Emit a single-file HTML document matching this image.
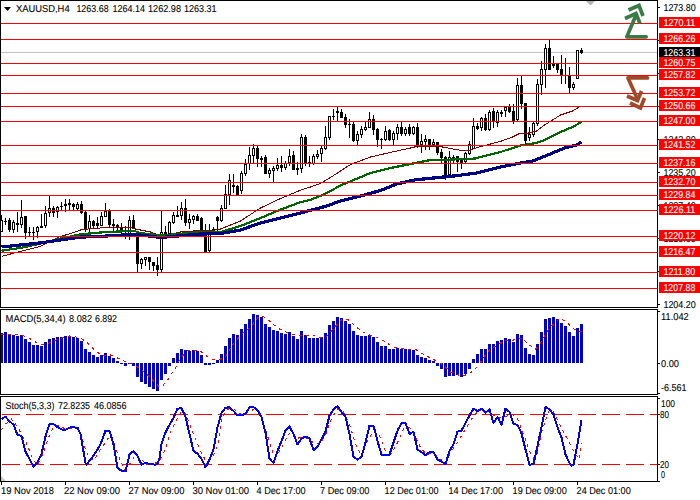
<!DOCTYPE html><html><head><meta charset="utf-8"><title>XAUUSD H4</title><style>html,body{margin:0;padding:0;background:#fff;width:700px;height:500px;overflow:hidden}svg{display:block}</style></head><body><svg width="700" height="500" viewBox="0 0 700 500"><rect width="700" height="500" fill="#fff"/><rect x="1" y="52" width="656" height="1" fill="#c0c0c0" shape-rendering="crispEdges"/><g fill="#000" shape-rendering="crispEdges"><rect x="1" y="215" width="1" height="17"/><rect x="0" y="220" width="3" height="12"/><rect x="1" y="221" width="1" height="10" fill="#fff"/><rect x="5" y="218" width="1" height="7"/><rect x="4" y="221" width="3" height="1"/><rect x="9" y="218" width="1" height="14"/><rect x="8" y="220" width="3" height="10"/><rect x="13" y="220" width="1" height="13"/><rect x="12" y="222" width="3" height="8"/><rect x="13" y="223" width="1" height="6" fill="#fff"/><rect x="17" y="212" width="1" height="20"/><rect x="16" y="223" width="3" height="2"/><rect x="21" y="200" width="1" height="28"/><rect x="20" y="217" width="3" height="8"/><rect x="21" y="218" width="1" height="6" fill="#fff"/><rect x="25" y="216" width="1" height="23"/><rect x="24" y="216" width="3" height="17"/><rect x="29" y="227" width="1" height="9"/><rect x="28" y="232" width="3" height="1"/><rect x="33" y="227" width="1" height="13"/><rect x="32" y="232" width="3" height="1"/><rect x="37" y="226" width="1" height="12"/><rect x="36" y="227" width="3" height="5"/><rect x="37" y="228" width="1" height="3" fill="#fff"/><rect x="41" y="214" width="1" height="14"/><rect x="40" y="226" width="3" height="2"/><rect x="45" y="206" width="1" height="22"/><rect x="44" y="213" width="3" height="13"/><rect x="45" y="214" width="1" height="11" fill="#fff"/><rect x="49" y="196" width="1" height="21"/><rect x="48" y="208" width="3" height="5"/><rect x="49" y="209" width="1" height="3" fill="#fff"/><rect x="53" y="206" width="1" height="11"/><rect x="52" y="208" width="3" height="5"/><rect x="57" y="206" width="1" height="12"/><rect x="56" y="207" width="3" height="5"/><rect x="57" y="208" width="1" height="3" fill="#fff"/><rect x="61" y="202" width="1" height="8"/><rect x="60" y="206" width="3" height="1"/><rect x="65" y="199" width="1" height="13"/><rect x="64" y="204" width="3" height="2"/><rect x="69" y="199" width="1" height="11"/><rect x="68" y="203" width="3" height="2"/><rect x="73" y="203" width="1" height="7"/><rect x="72" y="204" width="3" height="3"/><rect x="77" y="202" width="1" height="8"/><rect x="76" y="204" width="3" height="5"/><rect x="77" y="205" width="1" height="3" fill="#fff"/><rect x="81" y="201" width="1" height="13"/><rect x="80" y="204" width="3" height="9"/><rect x="85" y="211" width="1" height="21"/><rect x="84" y="212" width="3" height="17"/><rect x="89" y="215" width="1" height="21"/><rect x="88" y="221" width="3" height="8"/><rect x="89" y="222" width="1" height="6" fill="#fff"/><rect x="93" y="220" width="1" height="9"/><rect x="92" y="221" width="3" height="5"/><rect x="97" y="217" width="1" height="12"/><rect x="96" y="223" width="3" height="3"/><rect x="101" y="212" width="1" height="14"/><rect x="100" y="216" width="3" height="10"/><rect x="101" y="217" width="1" height="8" fill="#fff"/><rect x="105" y="203" width="1" height="14"/><rect x="104" y="211" width="3" height="6"/><rect x="105" y="212" width="1" height="4" fill="#fff"/><rect x="109" y="209" width="1" height="18"/><rect x="108" y="211" width="3" height="14"/><rect x="113" y="219" width="1" height="12"/><rect x="112" y="224" width="3" height="2"/><rect x="117" y="224" width="1" height="7"/><rect x="116" y="225" width="3" height="3"/><rect x="121" y="223" width="1" height="10"/><rect x="120" y="228" width="3" height="3"/><rect x="125" y="226" width="1" height="13"/><rect x="124" y="230" width="3" height="1"/><rect x="129" y="216" width="1" height="24"/><rect x="128" y="220" width="3" height="14"/><rect x="129" y="221" width="1" height="12" fill="#fff"/><rect x="133" y="215" width="1" height="14"/><rect x="132" y="220" width="3" height="9"/><rect x="137" y="236" width="1" height="36"/><rect x="136" y="236" width="3" height="28"/><rect x="141" y="258" width="1" height="11"/><rect x="140" y="259" width="3" height="5"/><rect x="141" y="260" width="1" height="3" fill="#fff"/><rect x="145" y="257" width="1" height="9"/><rect x="144" y="257" width="3" height="3"/><rect x="145" y="258" width="1" height="1" fill="#fff"/><rect x="149" y="257" width="1" height="13"/><rect x="148" y="257" width="3" height="5"/><rect x="153" y="262" width="1" height="9"/><rect x="152" y="262" width="3" height="4"/><rect x="157" y="257" width="1" height="19"/><rect x="156" y="265" width="3" height="5"/><rect x="161" y="211" width="1" height="61"/><rect x="160" y="232" width="3" height="38"/><rect x="161" y="233" width="1" height="36" fill="#fff"/><rect x="165" y="226" width="1" height="9"/><rect x="164" y="232" width="3" height="3"/><rect x="169" y="221" width="1" height="14"/><rect x="168" y="222" width="3" height="12"/><rect x="169" y="223" width="1" height="10" fill="#fff"/><rect x="173" y="212" width="1" height="12"/><rect x="172" y="215" width="3" height="8"/><rect x="173" y="216" width="1" height="6" fill="#fff"/><rect x="177" y="206" width="1" height="11"/><rect x="176" y="215" width="3" height="2"/><rect x="181" y="202" width="1" height="18"/><rect x="180" y="208" width="3" height="8"/><rect x="181" y="209" width="1" height="6" fill="#fff"/><rect x="185" y="199" width="1" height="27"/><rect x="184" y="208" width="3" height="15"/><rect x="189" y="214" width="1" height="15"/><rect x="188" y="219" width="3" height="4"/><rect x="189" y="220" width="1" height="2" fill="#fff"/><rect x="193" y="215" width="1" height="9"/><rect x="192" y="216" width="3" height="4"/><rect x="193" y="217" width="1" height="2" fill="#fff"/><rect x="197" y="214" width="1" height="7"/><rect x="196" y="216" width="3" height="5"/><rect x="201" y="217" width="1" height="18"/><rect x="200" y="218" width="3" height="17"/><rect x="205" y="224" width="1" height="28"/><rect x="204" y="230" width="3" height="22"/><rect x="209" y="224" width="1" height="28"/><rect x="208" y="231" width="3" height="20"/><rect x="209" y="232" width="1" height="18" fill="#fff"/><rect x="213" y="227" width="1" height="8"/><rect x="212" y="229" width="3" height="3"/><rect x="213" y="230" width="1" height="1" fill="#fff"/><rect x="217" y="216" width="1" height="16"/><rect x="216" y="217" width="3" height="4"/><rect x="221" y="205" width="1" height="17"/><rect x="220" y="208" width="3" height="13"/><rect x="221" y="209" width="1" height="11" fill="#fff"/><rect x="225" y="185" width="1" height="24"/><rect x="224" y="194" width="3" height="15"/><rect x="225" y="195" width="1" height="13" fill="#fff"/><rect x="229" y="174" width="1" height="31"/><rect x="228" y="180" width="3" height="15"/><rect x="229" y="181" width="1" height="13" fill="#fff"/><rect x="233" y="174" width="1" height="19"/><rect x="232" y="185" width="3" height="2"/><rect x="237" y="185" width="1" height="10"/><rect x="236" y="186" width="3" height="9"/><rect x="241" y="171" width="1" height="23"/><rect x="240" y="173" width="3" height="18"/><rect x="241" y="174" width="1" height="16" fill="#fff"/><rect x="245" y="159" width="1" height="17"/><rect x="244" y="164" width="3" height="10"/><rect x="245" y="165" width="1" height="8" fill="#fff"/><rect x="249" y="147" width="1" height="23"/><rect x="248" y="155" width="3" height="9"/><rect x="249" y="156" width="1" height="7" fill="#fff"/><rect x="253" y="144" width="1" height="19"/><rect x="252" y="148" width="3" height="8"/><rect x="253" y="149" width="1" height="6" fill="#fff"/><rect x="257" y="146" width="1" height="21"/><rect x="256" y="148" width="3" height="11"/><rect x="261" y="156" width="1" height="11"/><rect x="260" y="158" width="3" height="2"/><rect x="265" y="155" width="1" height="19"/><rect x="264" y="157" width="3" height="17"/><rect x="269" y="168" width="1" height="10"/><rect x="268" y="170" width="3" height="4"/><rect x="269" y="171" width="1" height="2" fill="#fff"/><rect x="273" y="166" width="1" height="16"/><rect x="272" y="168" width="3" height="3"/><rect x="273" y="169" width="1" height="1" fill="#fff"/><rect x="277" y="158" width="1" height="13"/><rect x="276" y="165" width="3" height="4"/><rect x="277" y="166" width="1" height="2" fill="#fff"/><rect x="281" y="156" width="1" height="16"/><rect x="280" y="165" width="3" height="3"/><rect x="285" y="161" width="1" height="9"/><rect x="284" y="163" width="3" height="5"/><rect x="285" y="164" width="1" height="3" fill="#fff"/><rect x="289" y="149" width="1" height="17"/><rect x="288" y="156" width="3" height="7"/><rect x="289" y="157" width="1" height="5" fill="#fff"/><rect x="293" y="151" width="1" height="19"/><rect x="292" y="155" width="3" height="15"/><rect x="297" y="162" width="1" height="13"/><rect x="296" y="168" width="3" height="2"/><rect x="301" y="134" width="1" height="39"/><rect x="300" y="137" width="3" height="32"/><rect x="301" y="138" width="1" height="30" fill="#fff"/><rect x="305" y="135" width="1" height="31"/><rect x="304" y="137" width="3" height="26"/><rect x="309" y="156" width="1" height="11"/><rect x="308" y="162" width="3" height="1"/><rect x="313" y="154" width="1" height="11"/><rect x="312" y="156" width="3" height="8"/><rect x="313" y="157" width="1" height="6" fill="#fff"/><rect x="317" y="150" width="1" height="9"/><rect x="316" y="154" width="3" height="3"/><rect x="317" y="155" width="1" height="1" fill="#fff"/><rect x="321" y="146" width="1" height="16"/><rect x="320" y="148" width="3" height="6"/><rect x="321" y="149" width="1" height="4" fill="#fff"/><rect x="325" y="126" width="1" height="24"/><rect x="324" y="137" width="3" height="12"/><rect x="325" y="138" width="1" height="10" fill="#fff"/><rect x="329" y="116" width="1" height="24"/><rect x="328" y="116" width="3" height="22"/><rect x="329" y="117" width="1" height="20" fill="#fff"/><rect x="333" y="109" width="1" height="11"/><rect x="332" y="116" width="3" height="1"/><rect x="337" y="107" width="1" height="14"/><rect x="336" y="111" width="3" height="2"/><rect x="341" y="109" width="1" height="9"/><rect x="340" y="112" width="3" height="6"/><rect x="345" y="114" width="1" height="14"/><rect x="344" y="117" width="3" height="8"/><rect x="349" y="119" width="1" height="19"/><rect x="348" y="124" width="3" height="1"/><rect x="353" y="122" width="1" height="20"/><rect x="352" y="124" width="3" height="17"/><rect x="357" y="131" width="1" height="14"/><rect x="356" y="134" width="3" height="7"/><rect x="357" y="135" width="1" height="5" fill="#fff"/><rect x="361" y="126" width="1" height="12"/><rect x="360" y="129" width="3" height="6"/><rect x="361" y="130" width="1" height="4" fill="#fff"/><rect x="365" y="121" width="1" height="10"/><rect x="364" y="127" width="3" height="3"/><rect x="365" y="128" width="1" height="1" fill="#fff"/><rect x="369" y="112" width="1" height="16"/><rect x="368" y="119" width="3" height="9"/><rect x="369" y="120" width="1" height="7" fill="#fff"/><rect x="373" y="115" width="1" height="20"/><rect x="372" y="119" width="3" height="11"/><rect x="377" y="128" width="1" height="19"/><rect x="376" y="129" width="3" height="11"/><rect x="381" y="138" width="1" height="11"/><rect x="380" y="139" width="3" height="1"/><rect x="385" y="126" width="1" height="15"/><rect x="384" y="131" width="3" height="9"/><rect x="385" y="132" width="1" height="7" fill="#fff"/><rect x="389" y="129" width="1" height="12"/><rect x="388" y="130" width="3" height="10"/><rect x="393" y="131" width="1" height="14"/><rect x="392" y="133" width="3" height="7"/><rect x="393" y="134" width="1" height="5" fill="#fff"/><rect x="397" y="124" width="1" height="16"/><rect x="396" y="127" width="3" height="7"/><rect x="397" y="128" width="1" height="5" fill="#fff"/><rect x="401" y="122" width="1" height="14"/><rect x="400" y="127" width="3" height="7"/><rect x="405" y="127" width="1" height="9"/><rect x="404" y="129" width="3" height="5"/><rect x="405" y="130" width="1" height="3" fill="#fff"/><rect x="409" y="124" width="1" height="12"/><rect x="408" y="127" width="3" height="7"/><rect x="413" y="126" width="1" height="9"/><rect x="412" y="127" width="3" height="7"/><rect x="413" y="128" width="1" height="5" fill="#fff"/><rect x="417" y="123" width="1" height="25"/><rect x="416" y="127" width="3" height="19"/><rect x="421" y="134" width="1" height="19"/><rect x="420" y="141" width="3" height="4"/><rect x="421" y="142" width="1" height="2" fill="#fff"/><rect x="425" y="135" width="1" height="15"/><rect x="424" y="139" width="3" height="3"/><rect x="425" y="140" width="1" height="1" fill="#fff"/><rect x="429" y="139" width="1" height="11"/><rect x="428" y="139" width="3" height="6"/><rect x="433" y="139" width="1" height="6"/><rect x="432" y="142" width="3" height="3"/><rect x="433" y="143" width="1" height="1" fill="#fff"/><rect x="437" y="142" width="1" height="13"/><rect x="436" y="142" width="3" height="11"/><rect x="441" y="149" width="1" height="14"/><rect x="440" y="152" width="3" height="6"/><rect x="445" y="156" width="1" height="24"/><rect x="444" y="157" width="3" height="18"/><rect x="449" y="151" width="1" height="24"/><rect x="448" y="157" width="3" height="18"/><rect x="449" y="158" width="1" height="16" fill="#fff"/><rect x="453" y="155" width="1" height="8"/><rect x="452" y="157" width="3" height="3"/><rect x="453" y="158" width="1" height="1" fill="#fff"/><rect x="457" y="156" width="1" height="16"/><rect x="456" y="156" width="3" height="6"/><rect x="461" y="160" width="1" height="9"/><rect x="460" y="160" width="3" height="3"/><rect x="465" y="152" width="1" height="11"/><rect x="464" y="153" width="3" height="9"/><rect x="465" y="154" width="1" height="7" fill="#fff"/><rect x="469" y="141" width="1" height="14"/><rect x="468" y="144" width="3" height="10"/><rect x="469" y="145" width="1" height="8" fill="#fff"/><rect x="473" y="118" width="1" height="31"/><rect x="472" y="126" width="3" height="23"/><rect x="473" y="127" width="1" height="21" fill="#fff"/><rect x="477" y="123" width="1" height="7"/><rect x="476" y="126" width="3" height="3"/><rect x="481" y="117" width="1" height="14"/><rect x="480" y="118" width="3" height="10"/><rect x="481" y="119" width="1" height="8" fill="#fff"/><rect x="485" y="114" width="1" height="17"/><rect x="484" y="118" width="3" height="12"/><rect x="489" y="110" width="1" height="21"/><rect x="488" y="112" width="3" height="18"/><rect x="489" y="113" width="1" height="16" fill="#fff"/><rect x="493" y="108" width="1" height="20"/><rect x="492" y="111" width="3" height="11"/><rect x="497" y="110" width="1" height="17"/><rect x="496" y="112" width="3" height="11"/><rect x="497" y="113" width="1" height="9" fill="#fff"/><rect x="501" y="110" width="1" height="7"/><rect x="500" y="112" width="3" height="2"/><rect x="505" y="106" width="1" height="11"/><rect x="504" y="107" width="3" height="4"/><rect x="505" y="108" width="1" height="2" fill="#fff"/><rect x="509" y="104" width="1" height="9"/><rect x="508" y="107" width="3" height="5"/><rect x="513" y="104" width="1" height="20"/><rect x="512" y="111" width="3" height="10"/><rect x="517" y="78" width="1" height="43"/><rect x="516" y="85" width="3" height="35"/><rect x="517" y="86" width="1" height="33" fill="#fff"/><rect x="521" y="76" width="1" height="33"/><rect x="520" y="85" width="3" height="19"/><rect x="525" y="103" width="1" height="41"/><rect x="524" y="103" width="3" height="38"/><rect x="529" y="127" width="1" height="14"/><rect x="528" y="134" width="3" height="4"/><rect x="529" y="135" width="1" height="2" fill="#fff"/><rect x="533" y="122" width="1" height="15"/><rect x="532" y="123" width="3" height="12"/><rect x="533" y="124" width="1" height="10" fill="#fff"/><rect x="537" y="79" width="1" height="47"/><rect x="536" y="84" width="3" height="40"/><rect x="537" y="85" width="1" height="38" fill="#fff"/><rect x="541" y="61" width="1" height="34"/><rect x="540" y="69" width="3" height="16"/><rect x="541" y="70" width="1" height="14" fill="#fff"/><rect x="545" y="44" width="1" height="44"/><rect x="544" y="48" width="3" height="22"/><rect x="545" y="49" width="1" height="20" fill="#fff"/><rect x="549" y="40" width="1" height="30"/><rect x="548" y="48" width="3" height="22"/><rect x="553" y="56" width="1" height="12"/><rect x="552" y="64" width="3" height="2"/><rect x="557" y="64" width="1" height="9"/><rect x="556" y="64" width="3" height="6"/><rect x="561" y="55" width="1" height="29"/><rect x="560" y="69" width="3" height="7"/><rect x="565" y="58" width="1" height="26"/><rect x="564" y="75" width="3" height="1"/><rect x="569" y="67" width="1" height="26"/><rect x="568" y="75" width="3" height="13"/><rect x="573" y="82" width="1" height="8"/><rect x="572" y="84" width="3" height="4"/><rect x="573" y="85" width="1" height="2" fill="#fff"/><rect x="577" y="50" width="1" height="29"/><rect x="576" y="50" width="3" height="29"/><rect x="577" y="51" width="1" height="27" fill="#fff"/><rect x="581" y="48" width="1" height="6"/><rect x="580" y="50" width="3" height="3"/></g><g fill="none" stroke-linejoin="round" shape-rendering="crispEdges"><polyline points="1.5,256.4 20.5,251.4 40.5,246.4 60.5,236.4 70.5,233.6 80.5,230 88.5,229 100.5,228 104.5,227.4 130.5,227.4 135.5,229 150.5,232 155.5,234 162.5,235.6 170.5,234.5 180.5,232 200.5,230.4 215.5,230 220.5,229 240.5,221 260.5,208 280.5,198.5 300.5,190.2 310.5,187 320.5,183.4 330.5,177.5 350.5,164.5 370.5,157 390.5,152.4 410.5,148 418.5,146 442.5,147 458.5,150 470.5,150 480.5,146.6 500.5,141.4 512.5,137 520.5,133 528.5,133 536.5,131 544.5,125 552.5,120 560.5,115 572.5,111 581.5,105.6" stroke="#800000" stroke-width="1"/><polyline points="1.5,250.7 20.5,247.9 40.5,243.6 60.5,238.6 80.5,234.3 100.5,232.5 106.5,232 130.5,231 134.5,231 140.5,233 160.5,235.5 200.5,232 220.5,232 240.5,226 260.5,218 280.5,209.6 300.5,202.2 310.5,199.8 320.5,195.8 330.5,191 340.5,185.5 370.5,173 390.5,168 410.5,164 430.5,160 450.5,159.6 475.5,158.5 480.5,157 500.5,152 520.5,145.4 536.5,143 544.5,140 552.5,136 560.5,132 572.5,127 581.5,122" stroke="#006400" stroke-width="2.2"/><polyline points="1.5,247 20.5,245 40.5,242.9 60.5,240 80.5,237.1 100.5,236.4 130.5,234.5 140.5,235 160.5,237.5 200.5,234 220.5,233.6 240.5,230 260.5,223 280.5,218 300.5,213 310.5,210.2 320.5,207.8 330.5,204.6 340.5,201 360.5,196 380.5,190.5 396.5,184 415.5,179.8 435.5,177.8 455.5,175.8 475.5,173.2 480.5,172 500.5,167 520.5,163 532.5,161 540.5,158 552.5,153 564.5,148 576.5,145 581.5,142" stroke="#000080" stroke-width="3.2"/></g><g shape-rendering="crispEdges"><rect x="1" y="23" width="656" height="1" fill="#f00"/><rect x="1" y="39" width="656" height="1" fill="#f00"/><rect x="1" y="63" width="656" height="1" fill="#f00"/><rect x="1" y="75" width="656" height="1" fill="#f00"/><rect x="1" y="93" width="656" height="1" fill="#f00"/><rect x="1" y="106" width="656" height="1" fill="#f00"/><rect x="1" y="121" width="656" height="1" fill="#f00"/><rect x="1" y="145" width="656" height="1" fill="#f00"/><rect x="1" y="163" width="656" height="1" fill="#f00"/><rect x="1" y="182" width="656" height="1" fill="#f00"/><rect x="1" y="195" width="656" height="1" fill="#f00"/><rect x="1" y="210" width="656" height="1" fill="#f00"/><rect x="1" y="236" width="656" height="1" fill="#f00"/><rect x="1" y="252" width="656" height="1" fill="#f00"/><rect x="1" y="272" width="656" height="1" fill="#f00"/><rect x="1" y="288" width="656" height="1" fill="#f00"/></g><g fill="#0000cd" shape-rendering="crispEdges"><rect x="0" y="333" width="3" height="30"/><rect x="4" y="332" width="3" height="31"/><rect x="8" y="335" width="3" height="28"/><rect x="12" y="335" width="3" height="28"/><rect x="16" y="336" width="3" height="27"/><rect x="20" y="335" width="3" height="28"/><rect x="24" y="339" width="3" height="24"/><rect x="28" y="342" width="3" height="21"/><rect x="32" y="345" width="3" height="18"/><rect x="36" y="345" width="3" height="18"/><rect x="40" y="346" width="3" height="17"/><rect x="44" y="342" width="3" height="21"/><rect x="48" y="339" width="3" height="24"/><rect x="52" y="338" width="3" height="25"/><rect x="56" y="337" width="3" height="26"/><rect x="60" y="337" width="3" height="26"/><rect x="64" y="336" width="3" height="27"/><rect x="68" y="336" width="3" height="27"/><rect x="72" y="337" width="3" height="26"/><rect x="76" y="338" width="3" height="25"/><rect x="80" y="341" width="3" height="22"/><rect x="84" y="349" width="3" height="14"/><rect x="88" y="352" width="3" height="11"/><rect x="92" y="355" width="3" height="8"/><rect x="96" y="357" width="3" height="6"/><rect x="100" y="355" width="3" height="8"/><rect x="104" y="353" width="3" height="10"/><rect x="108" y="356" width="3" height="7"/><rect x="112" y="358" width="3" height="5"/><rect x="116" y="361" width="3" height="2"/><rect x="120" y="363" width="3" height="1"/><rect x="124" y="363" width="3" height="3"/><rect x="128" y="363" width="3" height="1"/><rect x="132" y="363" width="3" height="3"/><rect x="136" y="363" width="3" height="14"/><rect x="140" y="363" width="3" height="19"/><rect x="144" y="363" width="3" height="21"/><rect x="148" y="363" width="3" height="24"/><rect x="152" y="363" width="3" height="26"/><rect x="156" y="363" width="3" height="28"/><rect x="160" y="363" width="3" height="17"/><rect x="164" y="363" width="3" height="11"/><rect x="168" y="363" width="3" height="3"/><rect x="172" y="358" width="3" height="5"/><rect x="176" y="353" width="3" height="10"/><rect x="180" y="349" width="3" height="14"/><rect x="184" y="350" width="3" height="13"/><rect x="188" y="351" width="3" height="12"/><rect x="192" y="350" width="3" height="13"/><rect x="196" y="351" width="3" height="12"/><rect x="200" y="355" width="3" height="8"/><rect x="204" y="363" width="3" height="2"/><rect x="208" y="363" width="3" height="2"/><rect x="212" y="363" width="3" height="1"/><rect x="216" y="360" width="3" height="3"/><rect x="220" y="354" width="3" height="9"/><rect x="224" y="346" width="3" height="17"/><rect x="228" y="338" width="3" height="25"/><rect x="232" y="334" width="3" height="29"/><rect x="236" y="335" width="3" height="28"/><rect x="240" y="329" width="3" height="34"/><rect x="244" y="324" width="3" height="39"/><rect x="248" y="319" width="3" height="44"/><rect x="252" y="314" width="3" height="49"/><rect x="256" y="315" width="3" height="48"/><rect x="260" y="317" width="3" height="46"/><rect x="264" y="324" width="3" height="39"/><rect x="268" y="327" width="3" height="36"/><rect x="272" y="330" width="3" height="33"/><rect x="276" y="331" width="3" height="32"/><rect x="280" y="333" width="3" height="30"/><rect x="284" y="334" width="3" height="29"/><rect x="288" y="332" width="3" height="31"/><rect x="292" y="336" width="3" height="27"/><rect x="296" y="339" width="3" height="24"/><rect x="300" y="331" width="3" height="32"/><rect x="304" y="335" width="3" height="28"/><rect x="308" y="338" width="3" height="25"/><rect x="312" y="338" width="3" height="25"/><rect x="316" y="338" width="3" height="25"/><rect x="320" y="337" width="3" height="26"/><rect x="324" y="333" width="3" height="30"/><rect x="328" y="325" width="3" height="38"/><rect x="332" y="321" width="3" height="42"/><rect x="336" y="317" width="3" height="46"/><rect x="340" y="318" width="3" height="45"/><rect x="344" y="321" width="3" height="42"/><rect x="348" y="324" width="3" height="39"/><rect x="352" y="331" width="3" height="32"/><rect x="356" y="335" width="3" height="28"/><rect x="360" y="336" width="3" height="27"/><rect x="364" y="336" width="3" height="27"/><rect x="368" y="335" width="3" height="28"/><rect x="372" y="337" width="3" height="26"/><rect x="376" y="342" width="3" height="21"/><rect x="380" y="346" width="3" height="17"/><rect x="384" y="346" width="3" height="17"/><rect x="388" y="349" width="3" height="14"/><rect x="392" y="349" width="3" height="14"/><rect x="396" y="348" width="3" height="15"/><rect x="400" y="349" width="3" height="14"/><rect x="404" y="349" width="3" height="14"/><rect x="408" y="350" width="3" height="13"/><rect x="412" y="350" width="3" height="13"/><rect x="416" y="355" width="3" height="8"/><rect x="420" y="357" width="3" height="6"/><rect x="424" y="358" width="3" height="5"/><rect x="428" y="360" width="3" height="3"/><rect x="432" y="361" width="3" height="2"/><rect x="436" y="363" width="3" height="3"/><rect x="440" y="363" width="3" height="6"/><rect x="444" y="363" width="3" height="14"/><rect x="448" y="363" width="3" height="13"/><rect x="452" y="363" width="3" height="13"/><rect x="456" y="363" width="3" height="12"/><rect x="460" y="363" width="3" height="14"/><rect x="464" y="363" width="3" height="11"/><rect x="468" y="363" width="3" height="6"/><rect x="472" y="359" width="3" height="4"/><rect x="476" y="354" width="3" height="9"/><rect x="480" y="349" width="3" height="14"/><rect x="484" y="349" width="3" height="14"/><rect x="488" y="344" width="3" height="19"/><rect x="492" y="344" width="3" height="19"/><rect x="496" y="341" width="3" height="22"/><rect x="500" y="340" width="3" height="23"/><rect x="504" y="338" width="3" height="25"/><rect x="508" y="339" width="3" height="24"/><rect x="512" y="342" width="3" height="21"/><rect x="516" y="334" width="3" height="29"/><rect x="520" y="335" width="3" height="28"/><rect x="524" y="348" width="3" height="15"/><rect x="528" y="354" width="3" height="9"/><rect x="532" y="355" width="3" height="8"/><rect x="536" y="344" width="3" height="19"/><rect x="540" y="332" width="3" height="31"/><rect x="544" y="319" width="3" height="44"/><rect x="548" y="318" width="3" height="45"/><rect x="552" y="317" width="3" height="46"/><rect x="556" y="319" width="3" height="44"/><rect x="560" y="323" width="3" height="40"/><rect x="564" y="326" width="3" height="37"/><rect x="568" y="332" width="3" height="31"/><rect x="572" y="336" width="3" height="27"/><rect x="576" y="328" width="3" height="35"/><rect x="580" y="324" width="3" height="39"/></g><polyline points="1.5,335 9.5,334.5 15.5,334.5 21.5,335 26.5,337 32.5,340 38.5,344 45.5,344.5 50.5,342.5 57.5,339.5 63.5,337.5 69.5,336 73.5,336.5 80.5,338 86.5,342 92.5,348 99.5,354 104.5,355.5 110.5,355 116.5,357.5 122.5,360.5 128.5,363 133.5,364.5 140.5,369 145.5,373 150.5,378 155.5,383 158.5,386 162.5,386 168.5,379 171.5,374 175.5,368 178.5,362 182.5,356 186.5,351 193.5,350 199.5,351 201.5,352 206.5,356 211.5,359 218.5,359.5 224.5,358 228.5,352 232.5,345 236.5,340 242.5,333.5 249.5,328 254.5,322 258.5,317 263.5,316.5 266.5,319 271.5,322.5 277.5,328 283.5,331 289.5,333.5 295.5,335 301.5,335.5 313.5,335.5 319.5,337.5 325.5,337.5 330.5,332 336.5,325 341.5,319.5 348.5,320 354.5,325.5 360.5,330.5 367.5,334.5 373.5,336 379.5,338.5 385.5,342 391.5,346 398.5,348.5 405.5,349 411.5,349.5 416.5,350 420.5,352.5 426.5,356 432.5,359 438.5,362 444.5,366 450.5,372 456.5,374.5 462.5,376 468.5,374 474.5,370 479.5,364 484.5,356 489.5,350 495.5,346 500.5,343 506.5,340 513.5,340 518.5,338 522.5,338 528.5,344.5 535.5,349 540.5,343 545.5,334 549.5,328 555.5,322 560.5,318.5 566.5,322 572.5,328 577.5,331 581.5,331" fill="none" stroke="#f00" stroke-width="1" stroke-dasharray="3 4" shape-rendering="crispEdges"/><line x1="2" y1="414.5" x2="657" y2="414.5" stroke="#f00" stroke-width="1" stroke-dasharray="18 6" shape-rendering="crispEdges"/><line x1="2" y1="464.5" x2="657" y2="464.5" stroke="#f00" stroke-width="1" stroke-dasharray="18 6" shape-rendering="crispEdges"/><polyline points="1.5,430 5.5,424 11.5,419 17.5,427 25.5,441 33.5,460.5 37.5,465 43.5,452.5 49.5,435 53.5,427 57.5,425.4 61.5,427.8 69.5,428.6 79.2,429 82.5,439 86.0,451 89.5,458.8 94.5,459.6 99.5,451 106.5,441 109.8,435.8 113.2,441 116.5,451 121.5,463 125.1,470 130.5,463 135.5,454.5 140.5,458.8 145.5,463 155.5,463 159.5,461.3 165.5,449.4 169.5,434 175.5,422 181.5,411 185.5,413.7 189.5,423.9 195.5,439.2 201.5,452.8 205.5,460.5 211.5,459.6 217.5,446 221.5,420.5 225.5,412 229.5,407.8 233.5,408.6 237.5,412 241.5,414.6 245.5,413.7 253.5,409.5 259.5,412 265.5,429 271.5,449.4 275.5,458 281.5,447.7 287.5,435.8 291.5,431.6 297.5,438.4 301.5,436.7 307.5,438.4 313.5,442.6 319.5,444.3 325.5,435 331.5,418.8 337.5,408.6 343.5,412 349.5,423.9 355.5,444.3 361.5,456.2 367.5,441 373.5,430.7 379.5,435.8 385.5,451 391.5,453.7 397.5,442.6 403.5,429 409.5,427.3 415.5,437.5 421.5,449.4 427.5,454.5 433.5,452.8 439.5,458.8 445.5,462.2 451.5,451 457.5,442.6 463.5,432.4 469.5,422.2 475.5,413.7 481.5,409.5 487.5,410.3 493.5,415.4 499.5,418 505.5,417 511.5,413.7 517.5,418.8 523.5,434 529.5,451 533.5,458 537.5,452.8 541.5,432.4 545.5,420.5 549.5,410 553.5,412 558.5,422 563.5,432 568.5,441 575.5,454.5 579.5,459 581.5,443" fill="none" stroke="#f00" stroke-width="1" stroke-dasharray="3 4" shape-rendering="crispEdges"/><polyline points="1.5,419 5.5,416.7 9.5,421.4 13.5,424.6 17.5,435 21.5,435.8 25.5,451.7 29.5,459 33.5,466.6 37.5,462 41.5,454 45.5,436.5 49.5,423.8 53.5,424.2 57.5,427 61.5,429.4 65.5,429.9 70.5,427.3 77.5,427.6 80.5,434 85.5,463 86.5,464.7 90.5,459.6 95.5,452.8 100.5,444.3 105.5,430.7 109.5,430.7 113.5,444.3 117.5,468 121.5,470.7 125.5,471.5 129.5,454.5 133.5,451 137.5,456 141.5,464.7 145.5,463 149.5,463.9 155.5,464.7 157.5,463.9 159.5,458 161.5,444.3 165.5,432.4 169.5,424.8 173.5,418 177.5,408.6 181.5,408.3 185.5,417 189.5,434 193.5,451 197.5,453.7 201.5,458.8 205.5,467.3 209.5,459.6 213.5,449.4 217.5,427.3 221.5,412.9 225.5,407.8 229.5,407.2 233.5,411 237.5,415.4 241.5,415.4 245.5,413.7 249.5,407.2 253.5,407 257.5,410.3 261.5,417 265.5,432.4 269.5,458.8 273.5,463 277.5,451 281.5,441 285.5,430.7 289.5,426.5 293.5,434 297.5,444.3 301.5,438.4 305.5,436.7 309.5,438.4 313.5,450.3 317.5,446.9 321.5,439.2 325.5,431.6 329.5,415.4 333.5,409.5 337.5,406 341.5,412 345.5,417 349.5,434 353.5,457 357.5,459.6 361.5,457 365.5,442.6 369.5,425.6 373.5,425.6 377.5,441 381.5,454.5 389.5,454.5 393.5,442.6 397.5,430.7 401.5,423 405.5,423 409.5,434 413.5,431.6 417.5,449.4 421.5,452 425.5,455.4 429.5,452 433.5,452 437.5,459.6 441.5,461.3 445.5,464.4 449.5,451 453.5,444.3 457.5,431.6 461.5,430.7 465.5,423 469.5,415.4 473.5,408.6 477.5,411 481.5,408.6 485.5,412.9 489.5,409.5 493.5,423 497.5,417 501.5,424.8 505.5,408.6 509.5,412 513.5,423.9 517.5,424.8 521.5,433.3 525.5,449.4 529.5,464.7 533.5,464.2 537.5,446 541.5,427.3 545.5,406.9 549.5,409.4 553.5,414.5 557.5,427.3 561.5,437.5 565.5,454.5 569.5,463 571.5,465.5 573.5,464.7 577.5,444.3 581.5,420.5" fill="none" stroke="#0000f0" stroke-width="2" stroke-linejoin="round" shape-rendering="crispEdges"/><polygon points="4,7 11,7 7.5,11" fill="#000"/><polygon points="586,1 595,1 590.5,5.5" fill="#b4b4b4"/><polygon points="1,476 1,481 6,481" fill="#c8c8c8"/><g fill="none" stroke="#3a7b45" stroke-width="3.7" stroke-linecap="butt" stroke-linejoin="miter"><polyline points="646.2,36.85 626.8,36.85 636,15" stroke-linecap="round" stroke-linejoin="round"/><polyline points="625,18.5 636,13.5 640,23.5"/><polyline points="628.5,10 639,5.5 643,16"/></g><g fill="none" stroke="#a0482a" stroke-width="3.7" stroke-linejoin="miter"><polyline points="647.5,77.9 628,77.9 637,98" stroke-linecap="round" stroke-linejoin="round"/><polyline points="627,96 637.5,100.5 641.5,91"/><polyline points="630,103 640.5,108 644.5,98"/></g><g fill="#000" shape-rendering="crispEdges"><rect x="0" y="0" width="658" height="1"/><rect x="0" y="307" width="658" height="1"/><rect x="0" y="0" width="1" height="308"/><rect x="657" y="0" width="1" height="308"/><rect x="0" y="309" width="658" height="1"/><rect x="0" y="394" width="658" height="1"/><rect x="0" y="309" width="1" height="86"/><rect x="657" y="309" width="1" height="86"/><rect x="0" y="396" width="658" height="1"/><rect x="0" y="481" width="658" height="1"/><rect x="0" y="396" width="1" height="86"/><rect x="657" y="396" width="1" height="86"/><rect x="658" y="7" width="2" height="1"/><rect x="658" y="40" width="2" height="1"/><rect x="658" y="73" width="2" height="1"/><rect x="658" y="106" width="2" height="1"/><rect x="658" y="139" width="2" height="1"/><rect x="658" y="172" width="2" height="1"/><rect x="658" y="205" width="2" height="1"/><rect x="658" y="238" width="2" height="1"/><rect x="658" y="271" width="2" height="1"/><rect x="658" y="304" width="2" height="1"/><rect x="658" y="311" width="2" height="1"/><rect x="658" y="363" width="2" height="1"/><rect x="658" y="393" width="2" height="1"/><rect x="658" y="398" width="2" height="1"/><rect x="658" y="414" width="2" height="1"/><rect x="658" y="464" width="2" height="1"/><rect x="658" y="481" width="2" height="1"/><rect x="1" y="482" width="1" height="3"/><rect x="65" y="482" width="1" height="3"/><rect x="129" y="482" width="1" height="3"/><rect x="193" y="482" width="1" height="3"/><rect x="257" y="482" width="1" height="3"/><rect x="321" y="482" width="1" height="3"/><rect x="385" y="482" width="1" height="3"/><rect x="449" y="482" width="1" height="3"/><rect x="513" y="482" width="1" height="3"/><rect x="577" y="482" width="1" height="3"/></g><g font-family="Liberation Sans, sans-serif" font-size="10" text-rendering="geometricPrecision"><text x="16" y="12" fill="#000" stroke="#000" stroke-width="0.1" textLength="53.6" lengthAdjust="spacingAndGlyphs">XAUUSD,H4</text><text x="76.4" y="12" fill="#000" stroke="#000" stroke-width="0.1" textLength="32.2" lengthAdjust="spacingAndGlyphs">1263.68</text><text x="112.6" y="12" fill="#000" stroke="#000" stroke-width="0.1" textLength="32.4" lengthAdjust="spacingAndGlyphs">1264.14</text><text x="148" y="12" fill="#000" stroke="#000" stroke-width="0.1" textLength="33" lengthAdjust="spacingAndGlyphs">1262.98</text><text x="184" y="12" fill="#000" stroke="#000" stroke-width="0.1" textLength="32.6" lengthAdjust="spacingAndGlyphs">1263.31</text><text x="663.4" y="11" fill="#000" stroke="#000" stroke-width="0.1" textLength="32.4" lengthAdjust="spacingAndGlyphs">1273.80</text><text x="663.4" y="143" fill="#000" stroke="#000" stroke-width="0.1" textLength="32.4" lengthAdjust="spacingAndGlyphs">1242.80</text><text x="663.4" y="176" fill="#000" stroke="#000" stroke-width="0.1" textLength="32.4" lengthAdjust="spacingAndGlyphs">1235.20</text><text x="663.4" y="209" fill="#000" stroke="#000" stroke-width="0.1" textLength="32.4" lengthAdjust="spacingAndGlyphs">1227.40</text><text x="663.4" y="242" fill="#000" stroke="#000" stroke-width="0.1" textLength="32.4" lengthAdjust="spacingAndGlyphs">1219.60</text><text x="663.4" y="308" fill="#000" stroke="#000" stroke-width="0.1" textLength="32.4" lengthAdjust="spacingAndGlyphs">1204.20</text><text x="661.1" y="320" fill="#000" stroke="#000" stroke-width="0.1" textLength="27.6" lengthAdjust="spacingAndGlyphs">11.042</text><text x="661" y="367" fill="#000" stroke="#000" stroke-width="0.1" textLength="18" lengthAdjust="spacingAndGlyphs">0.00</text><text x="661" y="391" fill="#000" stroke="#000" stroke-width="0.1" textLength="25.5" lengthAdjust="spacingAndGlyphs">-6.561</text><text x="661" y="407" fill="#000" stroke="#000" stroke-width="0.1" textLength="14" lengthAdjust="spacingAndGlyphs">100</text><text x="660" y="418" fill="#000" stroke="#000" stroke-width="0.1" textLength="9" lengthAdjust="spacingAndGlyphs">80</text><text x="660" y="468" fill="#000" stroke="#000" stroke-width="0.1" textLength="9" lengthAdjust="spacingAndGlyphs">20</text><text x="661" y="478" fill="#000" stroke="#000" stroke-width="0.1" textLength="4" lengthAdjust="spacingAndGlyphs">0</text><text x="5.6" y="322" fill="#000" stroke="#000" stroke-width="0.1" textLength="60.0" lengthAdjust="spacingAndGlyphs">MACD(5,34,4)</text><text x="69" y="322" fill="#000" stroke="#000" stroke-width="0.1" textLength="23" lengthAdjust="spacingAndGlyphs">8.082</text><text x="95" y="322" fill="#000" stroke="#000" stroke-width="0.1" textLength="22" lengthAdjust="spacingAndGlyphs">6.892</text><text x="5.4" y="409" fill="#000" stroke="#000" stroke-width="0.1" textLength="49.0" lengthAdjust="spacingAndGlyphs">Stoch(5,3,3)</text><text x="58" y="409" fill="#000" stroke="#000" stroke-width="0.1" textLength="32" lengthAdjust="spacingAndGlyphs">72.8235</text><text x="94" y="409" fill="#000" stroke="#000" stroke-width="0.1" textLength="32.6" lengthAdjust="spacingAndGlyphs">46.0856</text><text x="1" y="494" fill="#000" stroke="#000" stroke-width="0.1" textLength="53" lengthAdjust="spacingAndGlyphs">19 Nov 2018</text><text x="64" y="494" fill="#000" stroke="#000" stroke-width="0.1" textLength="56" lengthAdjust="spacingAndGlyphs">22 Nov 09:00</text><text x="128.6" y="494" fill="#000" stroke="#000" stroke-width="0.1" textLength="55.8" lengthAdjust="spacingAndGlyphs">27 Nov 09:00</text><text x="192.4" y="494" fill="#000" stroke="#000" stroke-width="0.1" textLength="56.6" lengthAdjust="spacingAndGlyphs">30 Nov 01:00</text><text x="256.6" y="494" fill="#000" stroke="#000" stroke-width="0.1" textLength="49.0" lengthAdjust="spacingAndGlyphs">4 Dec 17:00</text><text x="320" y="494" fill="#000" stroke="#000" stroke-width="0.1" textLength="49.4" lengthAdjust="spacingAndGlyphs">7 Dec 09:00</text><text x="384.6" y="494" fill="#000" stroke="#000" stroke-width="0.1" textLength="54.0" lengthAdjust="spacingAndGlyphs">12 Dec 01:00</text><text x="448.4" y="494" fill="#000" stroke="#000" stroke-width="0.1" textLength="54.6" lengthAdjust="spacingAndGlyphs">14 Dec 17:00</text><text x="512.6" y="494" fill="#000" stroke="#000" stroke-width="0.1" textLength="54.1" lengthAdjust="spacingAndGlyphs">19 Dec 09:00</text><text x="576.6" y="494" fill="#000" stroke="#000" stroke-width="0.1" textLength="54.1" lengthAdjust="spacingAndGlyphs">24 Dec 01:00</text></g><g shape-rendering="crispEdges"><rect x="659" y="47" width="41" height="10" fill="#000"/><rect x="659" y="17" width="41" height="11" fill="#f00"/><rect x="659" y="33" width="41" height="11" fill="#f00"/><rect x="659" y="57" width="41" height="11" fill="#f00"/><rect x="659" y="69" width="41" height="11" fill="#f00"/><rect x="659" y="87" width="41" height="11" fill="#f00"/><rect x="659" y="100" width="41" height="11" fill="#f00"/><rect x="659" y="115" width="41" height="11" fill="#f00"/><rect x="659" y="139" width="41" height="11" fill="#f00"/><rect x="659" y="157" width="41" height="11" fill="#f00"/><rect x="659" y="176" width="41" height="11" fill="#f00"/><rect x="659" y="189" width="41" height="11" fill="#f00"/><rect x="659" y="204" width="41" height="11" fill="#f00"/><rect x="659" y="230" width="41" height="11" fill="#f00"/><rect x="659" y="246" width="41" height="11" fill="#f00"/><rect x="659" y="266" width="41" height="11" fill="#f00"/><rect x="659" y="282" width="41" height="11" fill="#f00"/></g><g font-family="Liberation Sans, sans-serif" font-size="10" text-rendering="geometricPrecision"><text x="663.4" y="26" fill="#fff" stroke="#fff" stroke-width="0.1" textLength="32.0" lengthAdjust="spacingAndGlyphs">1270.11</text><text x="663.4" y="42" fill="#fff" stroke="#fff" stroke-width="0.1" textLength="32.0" lengthAdjust="spacingAndGlyphs">1266.26</text><text x="663.4" y="66" fill="#fff" stroke="#fff" stroke-width="0.1" textLength="32.0" lengthAdjust="spacingAndGlyphs">1260.75</text><text x="663.4" y="78" fill="#fff" stroke="#fff" stroke-width="0.1" textLength="32.0" lengthAdjust="spacingAndGlyphs">1257.82</text><text x="663.4" y="96" fill="#fff" stroke="#fff" stroke-width="0.1" textLength="32.0" lengthAdjust="spacingAndGlyphs">1253.72</text><text x="663.4" y="109" fill="#fff" stroke="#fff" stroke-width="0.1" textLength="32.0" lengthAdjust="spacingAndGlyphs">1250.66</text><text x="663.4" y="124" fill="#fff" stroke="#fff" stroke-width="0.1" textLength="32.0" lengthAdjust="spacingAndGlyphs">1247.00</text><text x="663.4" y="148" fill="#fff" stroke="#fff" stroke-width="0.1" textLength="32.0" lengthAdjust="spacingAndGlyphs">1241.52</text><text x="663.4" y="166" fill="#fff" stroke="#fff" stroke-width="0.1" textLength="32.0" lengthAdjust="spacingAndGlyphs">1237.16</text><text x="663.4" y="185" fill="#fff" stroke="#fff" stroke-width="0.1" textLength="32.0" lengthAdjust="spacingAndGlyphs">1232.70</text><text x="663.4" y="198" fill="#fff" stroke="#fff" stroke-width="0.1" textLength="32.0" lengthAdjust="spacingAndGlyphs">1229.84</text><text x="663.4" y="213" fill="#fff" stroke="#fff" stroke-width="0.1" textLength="32.0" lengthAdjust="spacingAndGlyphs">1226.11</text><text x="663.4" y="239" fill="#fff" stroke="#fff" stroke-width="0.1" textLength="32.0" lengthAdjust="spacingAndGlyphs">1220.12</text><text x="663.4" y="255" fill="#fff" stroke="#fff" stroke-width="0.1" textLength="32.0" lengthAdjust="spacingAndGlyphs">1216.47</text><text x="663.4" y="275" fill="#fff" stroke="#fff" stroke-width="0.1" textLength="32.0" lengthAdjust="spacingAndGlyphs">1211.80</text><text x="663.4" y="291" fill="#fff" stroke="#fff" stroke-width="0.1" textLength="32.0" lengthAdjust="spacingAndGlyphs">1207.88</text><text x="663.4" y="56" fill="#fff" stroke="#fff" stroke-width="0.1" textLength="32.0" lengthAdjust="spacingAndGlyphs">1263.31</text></g></svg></body></html>
